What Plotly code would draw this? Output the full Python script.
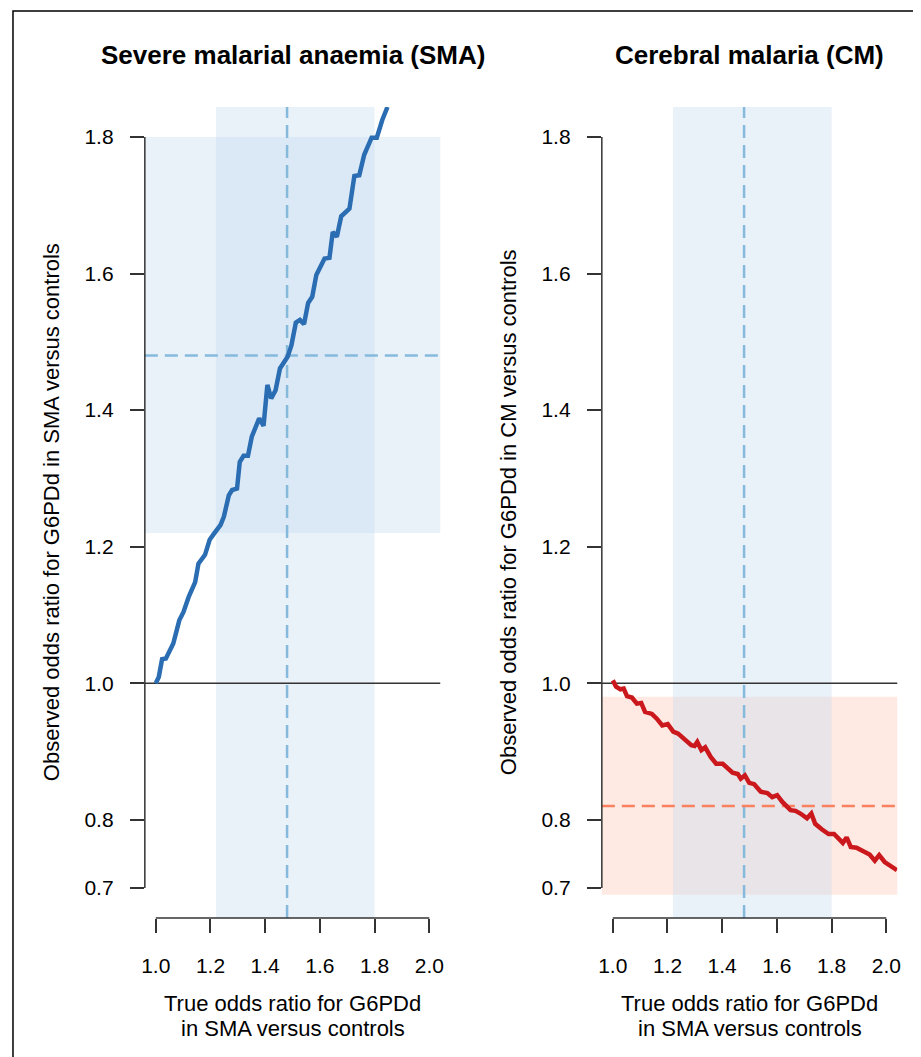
import plotly.graph_objects as go

# ---------------- data ----------------
sma_true_or = [1.000, 1.011, 1.023, 1.037, 1.064, 1.086, 1.101, 1.120, 1.144, 1.156, 1.180, 1.197,
               1.213, 1.237, 1.249, 1.267, 1.279, 1.297, 1.307, 1.321, 1.337, 1.351, 1.378, 1.394,
               1.408, 1.422, 1.438, 1.454, 1.482, 1.496, 1.512, 1.527, 1.542, 1.557, 1.572, 1.587,
               1.617, 1.635, 1.647, 1.662, 1.678, 1.708, 1.726, 1.744, 1.762, 1.789, 1.808, 1.828,
               1.847]
sma_observed_or = [1.000, 1.009, 1.035, 1.036, 1.058, 1.092, 1.104, 1.126, 1.148, 1.175, 1.188, 1.210,
                   1.219, 1.232, 1.244, 1.275, 1.283, 1.285, 1.324, 1.333, 1.333, 1.361, 1.388, 1.377,
                   1.437, 1.417, 1.429, 1.461, 1.478, 1.495, 1.528, 1.532, 1.526, 1.557, 1.566, 1.598,
                   1.622, 1.623, 1.661, 1.654, 1.684, 1.695, 1.743, 1.744, 1.774, 1.799, 1.799, 1.825,
                   1.844]

cm_true_or = [1.000, 1.012, 1.028, 1.040, 1.052, 1.070, 1.088, 1.104, 1.118, 1.143, 1.161, 1.181,
              1.201, 1.221, 1.239, 1.263, 1.287, 1.299, 1.309, 1.324, 1.338, 1.358, 1.378, 1.402,
              1.423, 1.438, 1.457, 1.468, 1.483, 1.499, 1.517, 1.541, 1.565, 1.583, 1.601, 1.620,
              1.650, 1.668, 1.686, 1.710, 1.726, 1.740, 1.764, 1.789, 1.809, 1.825, 1.841, 1.855,
              1.870, 1.891, 1.916, 1.939, 1.958, 1.974, 1.994, 2.039]
cm_observed_or = [1.004, 0.995, 0.991, 0.992, 0.981, 0.979, 0.970, 0.971, 0.958, 0.955, 0.948, 0.938,
                  0.940, 0.929, 0.926, 0.918, 0.909, 0.908, 0.914, 0.902, 0.906, 0.892, 0.882, 0.882,
                  0.874, 0.869, 0.867, 0.860, 0.865, 0.854, 0.852, 0.841, 0.839, 0.833, 0.836, 0.826,
                  0.814, 0.813, 0.809, 0.802, 0.809, 0.794, 0.786, 0.779, 0.779, 0.772, 0.766, 0.774,
                  0.760, 0.759, 0.753, 0.749, 0.740, 0.748, 0.738, 0.726]

# point estimates and 95% CIs
sma_est, sma_lo, sma_hi = 1.48, 1.22, 1.80
cm_est, cm_lo, cm_hi = 0.82, 0.69, 0.98

x_ticks = [1.0, 1.2, 1.4, 1.6, 1.8, 2.0]
x_tick_labels = ["1.0", "1.2", "1.4", "1.6", "1.8", "2.0"]
y_ticks = [0.7, 0.8, 1.0, 1.2, 1.4, 1.6, 1.8]
y_tick_labels = ["0.7", "0.8", "1.0", "1.2", "1.4", "1.6", "1.8"]

titles = ["Severe malarial anaemia (SMA)", "Cerebral malaria (CM)"]
y_titles = ["Observed odds ratio for G6PDd in SMA versus controls",
            "Observed odds ratio for G6PDd in CM versus controls"]
x_title_lines = ["True odds ratio for G6PDd", "in SMA versus controls"]

# ---------------- style ----------------
W, H = 921, 1057
OFF = 8  # page body margin of the browser
FONT = "Liberation Sans, Arial, Helvetica, sans-serif"
AX = "#333333"
BLUE_BAND = "rgba(198,219,239,0.38)"
RED_BAND = "rgba(252,187,161,0.30)"
BLUE_DASH = "#86BADD"
RED_DASH = "#FB8060"
BLUE_LINE = "#2A6DB2"
RED_LINE = "#CB181D"
DASH = "13px,7px"


def px(x):
    return (x - OFF) / W


def py(y):
    return 1 - (y - OFF) / H


panels = [
    dict(x0=142, x1=440),
    dict(x0=603, x1=901),
]
plot_top, plot_bot = 107, 918

fig = go.Figure()

fig.add_trace(go.Scatter(x=sma_true_or, y=sma_observed_or, mode="lines",
                         line=dict(color=BLUE_LINE, width=4.5), xaxis="x", yaxis="y",
                         showlegend=False, hoverinfo="skip"))
fig.add_trace(go.Scatter(x=cm_true_or, y=cm_observed_or, mode="lines",
                         line=dict(color=RED_LINE, width=4.5), xaxis="x2", yaxis="y2",
                         showlegend=False, hoverinfo="skip"))

layout = dict(
    width=W, height=H,
    margin=dict(l=0, r=0, t=0, b=0),
    paper_bgcolor="white", plot_bgcolor="rgba(0,0,0,0)",
    font=dict(family=FONT, color="black"),
    showlegend=False,
)

shapes = []
annotations = []
for i, p in enumerate(panels):
    sfx = "" if i == 0 else "2"
    xa = "x" + sfx
    ya = "y" + sfx
    common_axis = dict(showgrid=False, zeroline=False, showline=False,
                       ticks="outside", ticklen=14, tickwidth=1.5, tickcolor=AX,
                       tickfont=dict(size=21, family=FONT, color="black"))
    layout["xaxis" + sfx] = dict(common_axis, domain=[px(p["x0"]), px(p["x1"])],
                                 range=[0.96, 2.04], tickvals=x_ticks, ticktext=x_tick_labels,
                                 anchor=ya, ticklabelstandoff=15)
    layout["yaxis" + sfx] = dict(common_axis, domain=[py(plot_bot), py(plot_top)],
                                 range=[0.656, 1.844], tickvals=y_ticks, ticktext=y_tick_labels,
                                 anchor=xa, ticklabelstandoff=12)

    # CI band for the observed OR (horizontal)
    if i == 1:
        shapes.append(dict(type="rect", xref=xa + " domain", yref=ya, x0=0, x1=1,
                           y0=cm_lo, y1=cm_hi, fillcolor=RED_BAND, line=dict(width=0),
                           layer="below"))
    else:
        shapes.append(dict(type="rect", xref=xa + " domain", yref=ya, x0=0, x1=1,
                           y0=sma_lo, y1=sma_hi, fillcolor=BLUE_BAND, line=dict(width=0),
                           layer="below"))
    # CI band for the true OR (vertical, SMA estimate)
    shapes.append(dict(type="rect", xref=xa, yref=ya + " domain", x0=sma_lo, x1=sma_hi,
                       y0=0, y1=1, fillcolor=BLUE_BAND, line=dict(width=0), layer="below"))
    # dashed estimate lines
    shapes.append(dict(type="line", xref=xa, yref=ya + " domain", x0=sma_est, x1=sma_est,
                       y0=0, y1=1, line=dict(color=BLUE_DASH, width=2.5, dash=DASH),
                       layer="below"))
    if i == 0:
        shapes.append(dict(type="line", xref=xa + " domain", yref=ya, x0=0, x1=1,
                           y0=sma_est, y1=sma_est,
                           line=dict(color=BLUE_DASH, width=2.5, dash=DASH), layer="below"))
    else:
        shapes.append(dict(type="line", xref=xa + " domain", yref=ya, x0=0, x1=1,
                           y0=cm_est, y1=cm_est,
                           line=dict(color=RED_DASH, width=2.5, dash=DASH), layer="below"))
    # reference line at OR = 1
    shapes.append(dict(type="line", xref=xa + " domain", yref=ya, x0=0, x1=1, y0=1, y1=1,
                       line=dict(color=AX, width=1.5), layer="below"))
    # axis lines (R style: from first to last tick)
    shapes.append(dict(type="line", xref=xa + " domain", yref=ya, x0=0, x1=0,
                       y0=y_ticks[0], y1=y_ticks[-1], line=dict(color=AX, width=1.5)))
    shapes.append(dict(type="line", xref=xa, yref=ya + " domain", x0=x_ticks[0], x1=x_ticks[-1],
                       y0=0, y1=0, line=dict(color=AX, width=1.5)))

    cx = (p["x0"] + p["x1"]) / 2
    annotations.append(dict(text="<b>" + titles[i] + "</b>", xref="paper", yref="paper",
                            x=px(cx), y=py(55), xanchor="center", yanchor="middle",
                            showarrow=False, font=dict(size=26, family=FONT, color="black")))
    annotations.append(dict(text=y_titles[i], xref="paper", yref="paper",
                            x=px(p["x0"] - 94), y=py((plot_top + plot_bot) / 2),
                            xanchor="center", yanchor="middle", textangle=-90,
                            showarrow=False, font=dict(size=22, family=FONT, color="black")))
    for j, line_text in enumerate(x_title_lines):
        annotations.append(dict(text=line_text, xref="paper", yref="paper",
                                x=px(cx), y=py(1003 + 25 * j), xanchor="center",
                                yanchor="middle", showarrow=False,
                                font=dict(size=22, family=FONT, color="black")))

# outer frame (top and left edges visible in the reference)
shapes.append(dict(type="path", xref="paper", yref="paper",
                   path=f"M {px(9)},{py(H + 20)} L {px(9)},{py(11)} L {px(W + 20)},{py(11)}",
                   line=dict(color="black", width=1.5)))

layout["shapes"] = shapes
layout["annotations"] = annotations
fig.update_layout(**layout)
fig.write_html("out.html")
